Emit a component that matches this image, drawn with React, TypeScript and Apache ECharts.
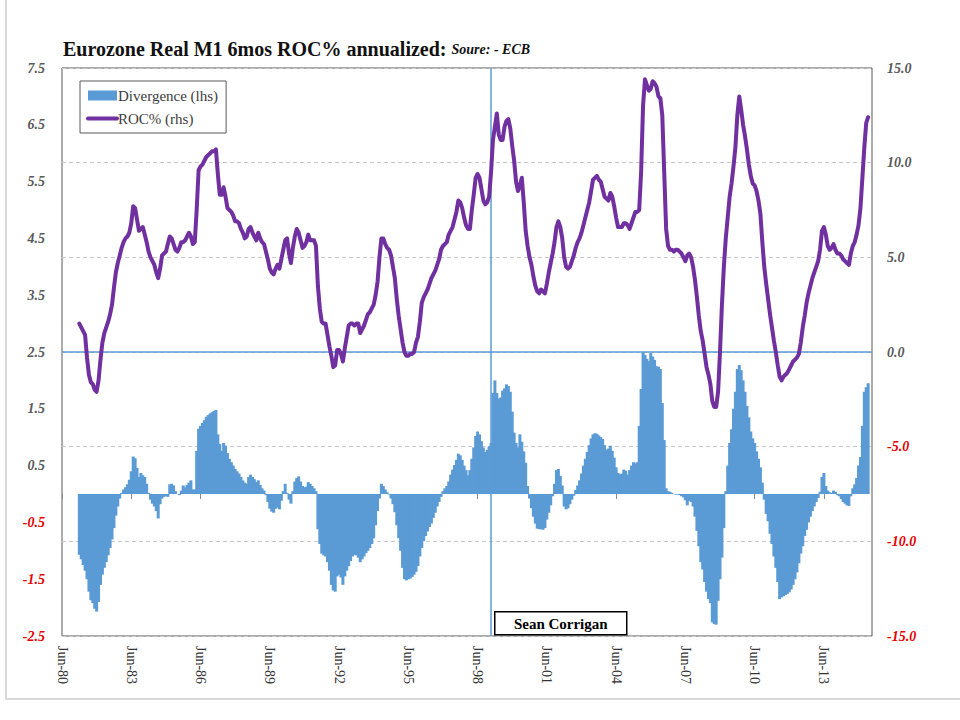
import React, { useEffect, useRef } from "react";
import * as echarts from "echarts";

// ---------- Categories (monthly, Jun-80 .. Jul-15) ----------
const MONTH_NAMES = ["Jan", "Feb", "Mar", "Apr", "May", "Jun", "Jul", "Aug", "Sep", "Oct", "Nov", "Dec"];
const FIRST_YEAR = 1980;
const FIRST_MONTH = 5; // June
const CATEGORY_COUNT = 422;
const categories: string[] = [];
for (let i = 0; i < CATEGORY_COUNT; i++) {
  const t = FIRST_MONTH + i;
  const y = FIRST_YEAR + Math.floor(t / 12);
  categories.push(MONTH_NAMES[t % 12] + "-" + String(y % 100).padStart(2, "0"));
}

// Data series start in Mar-81 (monthly)
const DATA_START = "Mar-81";
const EURO_LAUNCH = "Jan-99";

// Divergence (lhs), monthly from Mar-81
const divergence: number[] = [
  -1.07, -1.15, -1.25, -1.35, -1.5, -1.72, -1.87, -1.92, -2.02, -2.07,
  -1.9, -1.6, -1.42, -1.3, -1.2, -1.08, -0.95, -0.8, -0.6, -0.38,
  -0.22, -0.08, 0.02, 0.08, 0.12, 0.17, 0.25, 0.4, 0.66, 0.63,
  0.46, 0.3, 0.37, 0.33, 0.3, 0.18, 0.02, -0.1, -0.17, -0.22,
  -0.3, -0.43, -0.18, -0.08, -0.05, -0.04, -0.05, 0.17, 0.18, 0.15,
  0.05, 0.0, -0.02, 0.06, 0.15, 0.12, 0.16, 0.2, 0.24, 0.08,
  0.08, 0.76, 1.15, 1.2, 1.25, 1.3, 1.36, 1.39, 1.42, 1.44,
  1.46, 1.48, 1.05, 0.88, 0.76, 0.9, 0.85, 0.72, 0.62, 0.56,
  0.5, 0.44, 0.4, 0.36, 0.3, 0.24, 0.2, 0.18, 0.3, 0.34,
  0.3, 0.26, 0.21, 0.24, 0.16, 0.1, 0.06, -0.02, -0.14, -0.26,
  -0.31, -0.33, -0.26, -0.24, -0.27, -0.12, 0.05, 0.18, 0.02, -0.1,
  -0.17, 0.05, 0.22, 0.28, 0.31, 0.22, 0.14, 0.12, 0.13, 0.21,
  0.18, 0.14, 0.1, 0.05, -0.62, -0.88, -1.05, -1.08, -1.1, -1.2,
  -1.35, -1.6, -1.7, -1.72, -1.45, -1.42, -1.47, -1.6, -1.45, -1.35,
  -1.27, -1.18, -1.1, -1.07, -1.08, -1.12, -1.2, -1.15, -1.1, -1.04,
  -1.0, -0.95, -0.88, -0.78, -0.55, -0.3, -0.08, 0.18, 0.14, 0.08,
  0.03, -0.01, -0.08, -0.18, -0.32, -0.55, -0.78, -1.0, -1.3, -1.5,
  -1.52, -1.5, -1.49, -1.46, -1.42, -1.37, -1.27, -1.1, -0.95, -0.83,
  -0.74, -0.66, -0.58, -0.52, -0.42, -0.33, -0.22, -0.14, -0.05, 0.05,
  0.1, 0.14, 0.22, 0.34, 0.43, 0.51, 0.6, 0.71, 0.68, 0.6,
  0.5, 0.42, 0.33, 0.42, 0.62, 0.82, 1.02, 1.1, 1.05, 0.93,
  0.82, 0.74, 0.78, 0.84, 0.9, 1.78, 2.0, 1.78, 1.68, 1.7,
  1.82, 1.86, 1.93, 1.9, 1.8, 1.45, 1.08, 0.9, 0.82, 1.05,
  0.92, 0.75, 0.55, 0.14, -0.08, -0.25, -0.4, -0.52, -0.61, -0.62,
  -0.62, -0.63, -0.6, -0.45, -0.33, -0.2, -0.04, 0.18, 0.42, 0.44,
  0.32, 0.15, -0.22, -0.27, -0.25, -0.18, -0.1, -0.03, 0.07, 0.15,
  0.24, 0.36, 0.5, 0.62, 0.74, 0.86, 0.98, 1.05, 1.07, 1.06,
  1.03, 1.0, 0.97, 0.86, 0.78, 0.8, 0.85, 0.76, 0.64, 0.47,
  0.37, 0.35, 0.36, 0.43, 0.41, 0.34, 0.42, 0.5, 0.56, 0.54,
  0.56, 1.2, 1.85, 2.5, 2.45, 2.38, 2.34, 2.48, 2.42, 2.36,
  2.25, 2.24, 2.2, 1.6, 0.95, 0.1, 0.05, 0.04, 0.02, 0.0,
  -0.01, -0.01, -0.02, -0.04, -0.06, -0.11, -0.2, -0.12, -0.14, -0.22,
  -0.4, -0.65, -0.92, -1.2, -1.33, -1.55, -1.72, -1.85, -1.92, -2.26,
  -2.29, -2.3, -1.88, -1.5, -1.12, -0.6, 0.05, 0.5, 0.9, 1.14,
  1.5, 1.8, 2.2, 2.27, 2.18, 2.0, 1.8, 1.55, 1.35, 1.1,
  0.98, 0.9, 0.75, 0.62, 0.47, 0.2, -0.1, -0.35, -0.48, -0.7,
  -0.88, -1.1, -1.3, -1.55, -1.85, -1.82, -1.8, -1.78, -1.76, -1.73,
  -1.68, -1.6, -1.5, -1.38, -1.22, -1.05, -0.92, -0.74, -0.63, -0.5,
  -0.4, -0.3, -0.22, -0.14, -0.07, 0.04, 0.3, 0.37, 0.14, 0.06,
  0.03, 0.02, 0.06, 0.04, -0.02, -0.04, -0.09, -0.14, -0.17, -0.2,
  -0.21, -0.04, 0.1, 0.17, 0.28, 0.5, 0.65, 1.2, 1.8, 1.88,
  1.95,
];

// ROC% (rhs), monthly from Mar-81
const roc: number[] = [
  1.5, 1.3, 1.1, 0.9, -0.3, -1.2, -1.6, -1.7, -2.0, -2.1,
  -1.5, -0.4, 0.5, 1.0, 1.3, 1.6, 2.0, 2.5, 3.4, 4.2,
  4.7, 5.1, 5.5, 5.8, 6.0, 6.1, 6.3, 6.8, 7.7, 7.6,
  7.0, 6.4, 6.5, 6.6, 6.2, 5.8, 5.3, 5.0, 4.8, 4.6,
  4.2, 3.9, 4.4, 5.1, 5.2, 5.3, 5.7, 6.1, 6.0, 5.7,
  5.4, 5.3, 5.5, 5.8, 5.8, 5.9, 6.1, 6.3, 6.1, 5.7,
  5.8, 7.5, 9.6, 9.8, 9.9, 10.1, 10.3, 10.4, 10.5, 10.6,
  10.6, 10.7, 9.4, 8.3, 8.3, 8.7, 8.2, 7.6, 7.5, 7.4,
  7.2, 6.9, 6.9, 6.8, 6.5, 6.3, 6.0, 6.1, 6.5, 6.6,
  6.3, 6.1, 5.9, 6.3, 6.0, 5.8, 5.7, 5.3, 4.9, 4.4,
  4.2, 4.1, 4.4, 4.6, 4.4, 4.9, 5.4, 5.9, 6.0, 5.2,
  4.7, 5.5, 6.1, 6.5, 6.3, 5.9, 5.5, 5.6, 5.8, 6.2,
  5.9, 5.9, 5.9, 5.6, 3.5, 2.3, 1.6, 1.5, 1.5, 0.9,
  0.3, -0.2, -0.8, -0.7, 0.1, 0.1, -0.1, -0.5, 0.2, 0.8,
  1.4, 1.5, 1.5, 1.4, 1.5, 1.5, 1.0, 1.2, 1.4, 1.7,
  2.0, 2.1, 2.3, 2.5, 3.0, 3.7, 5.0, 6.0, 6.0, 5.7,
  5.5, 5.4, 5.1, 4.5, 3.9, 2.8, 1.9, 1.2, 0.5, 0.0,
  -0.2, -0.2, -0.1, -0.1, 0.0, 0.5, 0.8, 1.6, 2.6, 2.9,
  3.1, 3.3, 3.6, 3.9, 4.1, 4.3, 4.6, 4.9, 5.4, 5.6,
  5.7, 5.8, 6.2, 6.4, 6.6, 7.0, 7.4, 8.0, 7.9, 7.6,
  7.1, 6.7, 6.5, 6.5, 7.5, 8.3, 9.2, 9.4, 9.2, 8.6,
  8.0, 7.8, 7.9, 8.2, 9.5, 11.2, 11.9, 12.6, 11.5, 11.2,
  11.2, 11.9, 12.2, 12.3, 11.8, 10.9, 10.1, 9.0, 8.5, 8.8,
  9.2, 7.9, 6.4, 5.6, 5.0, 4.6, 4.0, 3.5, 3.2, 3.1,
  3.3, 3.2, 3.1, 3.6, 4.2, 4.7, 5.2, 5.8, 6.6, 6.9,
  6.6, 6.0, 5.0, 4.5, 4.4, 4.5, 4.8, 5.1, 5.5, 5.8,
  6.0, 6.3, 6.7, 7.1, 7.5, 7.9, 8.5, 9.1, 9.2, 9.3,
  9.1, 9.0, 8.6, 8.2, 8.1, 8.0, 8.4, 8.2, 7.7, 7.1,
  6.6, 6.6, 6.6, 6.8, 6.8, 6.7, 6.5, 6.8, 7.1, 7.4,
  7.4, 7.5, 9.5, 13.0, 14.4, 14.1, 13.8, 13.9, 14.3, 14.2,
  14.0, 13.5, 13.4, 12.5, 9.5, 6.5, 5.6, 5.4, 5.4, 5.3,
  5.4, 5.4, 5.3, 5.2, 5.0, 4.8, 5.1, 5.2, 5.0, 4.5,
  3.8, 2.9, 1.9, 1.1, 0.6, -0.1, -0.8, -1.2, -1.7, -2.6,
  -2.9, -2.9, -2.1, 0.0, 2.5, 4.5, 6.0, 7.1, 8.2, 8.9,
  9.8, 10.8, 12.5, 13.5, 12.8, 12.0, 11.4, 10.7, 9.9, 9.3,
  8.9, 8.8, 8.5, 8.0, 7.3, 5.8, 4.5, 3.6, 2.8, 2.0,
  1.3, 0.6, 0.0, -0.7, -1.3, -1.5, -1.3, -1.2, -1.1, -0.9,
  -0.7, -0.5, -0.4, -0.3, -0.1, 0.5, 1.3, 1.9, 2.6, 3.1,
  3.5, 3.9, 4.2, 4.5, 4.8, 5.4, 6.4, 6.6, 6.2, 5.6,
  5.4, 5.5, 5.7, 5.4, 5.2, 5.2, 5.1, 4.9, 4.8, 4.7,
  4.6, 5.2, 5.6, 5.8, 6.2, 6.7, 7.6, 9.2, 10.8, 12.1,
  12.4,
];

const SERIES_NAMES = ["Divergence (lhs)", "ROC% (rhs)"];
const TITLE_MAIN = "Eurozone Real M1 6mos ROC% annualized:";
const TITLE_SOURCE = "Soure: - ECB";
const AUTHOR = "Sean Corrigan";

const startIdx = categories.indexOf(DATA_START);
function align(values: number[]): (number | null)[] {
  return categories.map((_, i) => {
    const k = i - startIdx;
    return k >= 0 && k < values.length ? values[k] : null;
  });
}

const GREY = "#595959";
const RED = "#e60000";
const BLUE = "#5b9bd5";
const PURPLE = "#7030a0";
const SERIF = "'Liberation Serif', 'Times New Roman', serif";

export default function App() {
  const ref = useRef<HTMLDivElement>(null);

  useEffect(() => {
    if (!ref.current) return;
    const chart = echarts.init(ref.current, null, { renderer: "svg" });
    const labelColor = (v: any) => (Number(v) < 0 ? RED : GREY);
    chart.setOption({
      animation: false,
      backgroundColor: "#ffffff",
      title: {
        text: "{a|" + TITLE_MAIN + " }{b|" + TITLE_SOURCE + "}",
        left: 58,
        top: 34,
        textStyle: {
          rich: {
            a: { fontFamily: SERIF, fontWeight: "bold", fontSize: 20, color: "#111" },
            b: { fontFamily: SERIF, fontWeight: "bold", fontStyle: "italic", fontSize: 14, color: "#111" },
          },
        },
      },
      legend: {
        orient: "vertical",
        left: 80,
        top: 81,
        padding: [7, 8, 7, 6],
        itemGap: 8,
        itemWidth: 29,
        itemHeight: 10,
        backgroundColor: "#ffffff",
        borderColor: GREY,
        borderWidth: 1,
        borderRadius: 0,
        textStyle: { fontFamily: SERIF, fontSize: 15, color: "#404040", padding: [0, 0, 0, -4] },
        data: [
          { name: SERIES_NAMES[0], icon: "rect" },
          { name: SERIES_NAMES[1], itemStyle: { opacity: 0 }, lineStyle: { width: 4, color: PURPLE } },
        ],
      },
      grid: {
        left: 62,
        right: 88,
        top: 68,
        bottom: 84,
        show: true,
        borderColor: GREY,
        borderWidth: 1,
        backgroundColor: "transparent",
      },
      xAxis: {
        type: "category",
        data: categories,
        boundaryGap: false,
        axisLine: { show: false },
        axisTick: { show: true, interval: 35, length: 5, lineStyle: { color: "#8c8c8c" } },
        axisLabel: {
          interval: 35,
          rotate: -90,
          margin: 10,
          fontFamily: SERIF,
          fontSize: 14,
          color: "#333",
        },
        splitLine: { show: false },
      },
      yAxis: [
        {
          type: "value",
          min: -2.5,
          max: 7.5,
          interval: 1,
          position: "left",
          axisLine: { show: false },
          axisTick: { show: false },
          splitLine: { show: false },
          axisLabel: {
            margin: 17,
            fontFamily: SERIF,
            fontSize: 14,
            fontStyle: "italic",
            fontWeight: "bold",
            color: labelColor,
            formatter: (v: number) => v.toFixed(1),
          },
        },
        {
          type: "value",
          min: -15,
          max: 15,
          interval: 5,
          position: "right",
          axisLine: { show: false },
          axisTick: { show: false },
          splitLine: { show: true, lineStyle: { color: "#c8c8c8", type: [4, 3], width: 1 } },
          axisLabel: {
            margin: 15,
            fontFamily: SERIF,
            fontSize: 14,
            fontStyle: "italic",
            fontWeight: "bold",
            color: labelColor,
            formatter: (v: number) => v.toFixed(1),
          },
        },
      ],
      series: [
        {
          name: SERIES_NAMES[0],
          type: "bar",
          yAxisIndex: 0,
          data: align(divergence),
          barWidth: 3,
          itemStyle: { color: BLUE },
          z: 2,
        },
        {
          name: SERIES_NAMES[1],
          type: "line",
          yAxisIndex: 1,
          data: align(roc),
          symbol: "none",
          showSymbol: false,
          lineStyle: { color: PURPLE, width: 4, cap: "round", join: "round" },
          itemStyle: { color: PURPLE },
          z: 4,
          markLine: {
            silent: true,
            symbol: "none",
            label: { show: false },
            lineStyle: { color: BLUE, type: "solid", width: 1.5 },
            data: [{ yAxis: 0 }, { xAxis: EURO_LAUNCH }],
            z: 3,
          },
        },
      ],
      graphic: [
        {
          type: "rect",
          shape: { x: 6, y: -10, width: 980, height: 709 },
          style: { fill: "none", stroke: "#d9d9d9", lineWidth: 2 },
          silent: true,
          z: 0,
        },
        {
          type: "group",
          left: 494,
          top: 611,
          z: 10,
          children: [
            {
              type: "rect",
              shape: { x: 0, y: 0, width: 132, height: 23 },
              style: { fill: "#ffffff", stroke: "#000000", lineWidth: 1.5 },
            },
            {
              type: "text",
              x: 66,
              y: 12,
              style: {
                text: AUTHOR,
                fill: "#000",
                font: "bold 15px " + SERIF,
                textAlign: "center",
                textVerticalAlign: "middle",
              },
            },
          ],
        },
      ],
    });
    return () => chart.dispose();
  }, []);

  return (
    <div
      ref={ref}
      style={{ position: "fixed", left: 0, top: 0, width: 960, height: 720, background: "#fff" }}
    />
  );
}
